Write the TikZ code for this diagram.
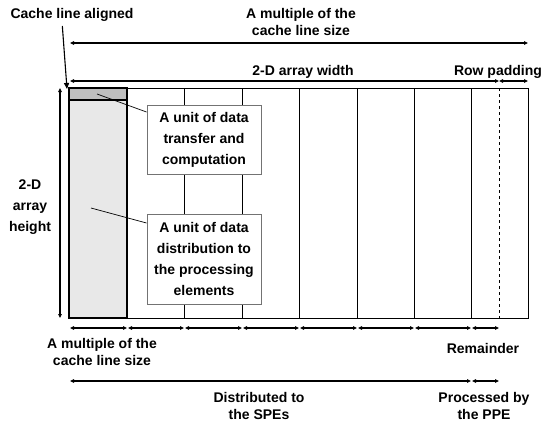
\documentclass[tikz,border=0pt]{standalone}
\usepackage{fontspec}
\setmainfont{Liberation Sans}
\usetikzlibrary{arrows.meta}
\begin{document}
\begin{tikzpicture}[x=1pt,y=-1pt,
  lbl/.style={font=\fontsize{14}{17}\selectfont\bfseries, align=center, inner sep=0pt},
  unitbox/.style={draw=black!55, line width=1pt, fill=white, font=\fontsize{14}{21}\selectfont\bfseries, align=center, minimum width=114pt, inner sep=0pt},
  dim/.style={line width=1.1pt, {Triangle[length=4pt,width=3.5pt]}-{Triangle[length=4pt,width=3.5pt]}},
  grid/.style={line width=0.8pt},
  lead/.style={line width=0.7pt}
]
\useasboundingbox (0,0) rectangle (554,421);
% array outline
\draw[grid] (69,88) rectangle (528,318);
\foreach \x in {184,242,299,357,414,471} \draw[grid] (\x,88) -- (\x,318);
\draw[grid, dashed] (499,88) -- (499,318);
% shaded column and strip
\draw[line width=2.2pt, fill=black!9] (69,88) rectangle (127,318);
\draw[line width=2.2pt, fill=black!25] (69,88) rectangle (127,100);
\coordinate (strip) at (97,94);
\coordinate (col) at (91,208);
% boxes
\node[unitbox, minimum height=69pt] (b1) at (204,139.5) {A unit of data\\transfer and\\computation};
\node[unitbox, minimum height=90pt] (b2) at (204,259) {A unit of data\\distribution to\\the processing\\elements};
\draw[lead] (strip) -- (b1.west |- 0,112);
\draw[lead] (col) -- (b2.west |- 0,223);
% top labels
\node[lbl] (cla) at (72,15) {Cache line aligned};
\coordinate (claend) at (67,89);
\draw[line width=1.1pt, -{Triangle[length=6pt,width=5pt]}] (cla.south west |- 0,26) ++(52,0) coordinate (clastart) -- (claend);
\node[lbl] (mtop) at (301,22) {A multiple of the\\cache line size};
\coordinate (t1a) at (70,43); \coordinate (t1b) at (528,43);
\draw[dim] (t1a) -- (t1b);
\node[lbl] (aw) at (303,72) {2-D array width};
\node[lbl] (rp) at (498,72) {Row padding};
\coordinate (t2a) at (70,81); \coordinate (t2b) at (499,81); \coordinate (t2c) at (528,81);
\draw[dim] (t2a) -- (t2b);
\draw[dim] (t2b) -- (t2c);
% left height
\node[lbl, font=\fontsize{14}{21}\selectfont\bfseries] (ah) at (30,207) {2-D\\array\\height};
\coordinate (ha) at (60,88); \coordinate (hb) at (60,318);
\draw[dim] (ha) -- (hb);
% bottom segment arrows
\foreach \a/\b in {70/127,128/184,185/242,243/299,300/357,358/414,415/471,472/499}
  \draw[dim] (\a,328) -- (\b,328);
\node[lbl] (mbot) at (102,352) {A multiple of the\\cache line size};
\node[lbl] (rem) at (483,348) {Remainder};
\coordinate (la) at (70,381); \coordinate (lb) at (471,381); \coordinate (lc) at (499,381);
\draw[dim] (la) -- (lb);
\draw[dim] (lb) ++(1,0) -- (lc);
\node[lbl] (spe) at (259,406) {Distributed to\\the SPEs};
\node[lbl] (ppe) at (484,406) {Processed by\\the PPE};
\end{tikzpicture}
\end{document}
